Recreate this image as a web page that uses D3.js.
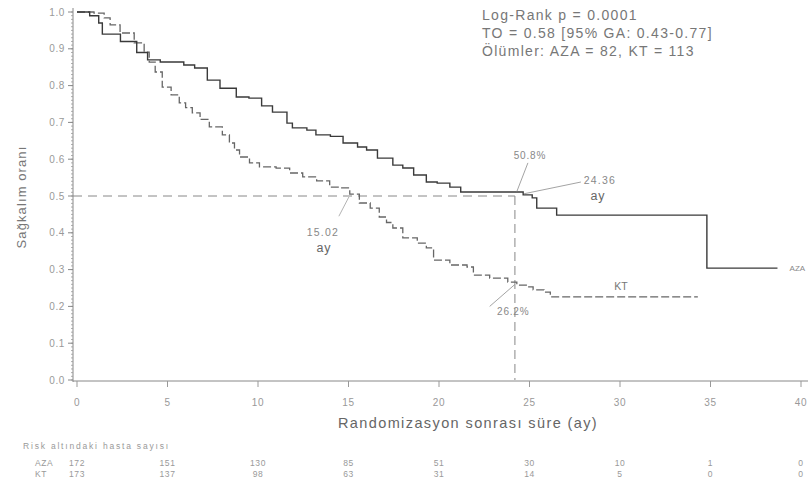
<!DOCTYPE html>
<html>
<head>
<meta charset="utf-8">
<script src="https://cdn.jsdelivr.net/npm/d3@7/dist/d3.min.js"></script>
<style>
  html, body { margin: 0; padding: 0; background: #fff; }
  svg { display: block; font-family: "Liberation Sans", Arial, sans-serif; }
</style>
</head>
<body>
<svg id="chart" width="809" height="496"></svg>
<script>
// ---------- DATA ----------
const azaTime = [0, 0.7, 1.2, 1.4, 2.4, 3.3, 3.9, 4.6, 5.9, 6.5, 7.2, 7.9, 8.8, 9.5, 10.2, 10.8, 11.6, 11.9, 12.7, 13.2, 14.0, 14.7, 15.5, 16.0, 16.6, 17.45, 18.0, 18.6, 19.3, 19.9, 20.6, 21.2, 24.65, 25.15, 25.4, 26.5, 34.8, 38.7];
const azaSurv = [1.0, 0.99, 0.97, 0.94, 0.92, 0.89, 0.87, 0.864, 0.856, 0.848, 0.815, 0.793, 0.769, 0.766, 0.745, 0.728, 0.698, 0.685, 0.679, 0.666, 0.662, 0.644, 0.633, 0.625, 0.603, 0.584, 0.576, 0.557, 0.538, 0.535, 0.524, 0.511, 0.503, 0.495, 0.467, 0.448, 0.304, 0.304];

const ktTime = [0, 0.94, 1.5, 1.83, 2.38, 3.16, 3.71, 3.99, 4.32, 4.71, 5.2, 5.65, 6.0, 6.37, 6.8, 7.31, 8.03, 8.42, 8.7, 8.98, 9.53, 10.08, 11.0, 11.75, 12.47, 13.24, 13.96, 14.5, 15.07, 15.6, 16.2, 16.7, 17.1, 17.45, 18.0, 18.8, 19.3, 19.7, 20.6, 21.55, 21.9, 22.8, 23.8, 24.3, 24.9, 25.2, 25.8, 26.15, 34.3];
const ktSurv = [1.0, 0.997, 0.984, 0.965, 0.943, 0.916, 0.891, 0.864, 0.837, 0.796, 0.775, 0.753, 0.74, 0.726, 0.708, 0.688, 0.666, 0.644, 0.625, 0.606, 0.590, 0.579, 0.576, 0.5625, 0.552, 0.541, 0.524, 0.522, 0.505, 0.481, 0.467, 0.443, 0.428, 0.413, 0.386, 0.372, 0.359, 0.326, 0.3125, 0.307, 0.285, 0.277, 0.266, 0.258, 0.253, 0.245, 0.239, 0.226, 0.226];

const xTicks = [0, 5, 10, 15, 20, 25, 30, 35, 40];
const yTicks = [0, 0.1, 0.2, 0.3, 0.4, 0.5, 0.6, 0.7, 0.8, 0.9, 1.0];
const azaRisk = [172, 151, 130, 85, 51, 30, 10, 1, 0];
const ktRisk = [173, 137, 98, 63, 31, 14, 5, 0, 0];

const statLines = ["Log-Rank p = 0.0001", "TO = 0.58 [95% GA: 0.43-0.77]", "Ölümler: AZA = 82, KT = 113"];
const medianAZA = 24.36, medianKT = 15.02;
const survAZA24 = "50.8%", survKT24 = "26.2%";

// ---------- SCALES ----------
const svg = d3.select("#chart");
const x = d3.scaleLinear().domain([0, 40]).range([77, 801]);
const y = d3.scaleLinear().domain([0, 1]).range([380, 12]);
const axisX0 = 73;

// ---------- AXES ----------
const gy = svg.append("g");
gy.append("line").attr("x1", axisX0).attr("x2", axisX0).attr("y1", y(1) - 4).attr("y2", y(0) + 2)
  .attr("stroke", "#888").attr("stroke-width", 1);
const minor = d3.range(0, 101).map(i => i / 100);
gy.selectAll("line.minor").data(minor).join("line").attr("class", "minor")
  .attr("x1", axisX0 - 2).attr("x2", axisX0).attr("y1", d => y(d)).attr("y2", d => y(d))
  .attr("stroke", "#999").attr("stroke-width", 0.8);
gy.selectAll("line.major").data(yTicks).join("line").attr("class", "major")
  .attr("x1", axisX0 - 5).attr("x2", axisX0).attr("y1", d => y(d)).attr("y2", d => y(d))
  .attr("stroke", "#888").attr("stroke-width", 1);
gy.selectAll("text").data(yTicks).join("text")
  .attr("x", axisX0 - 8).attr("y", d => y(d)).attr("dy", "0.35em")
  .attr("text-anchor", "end").attr("font-size", 10).attr("letter-spacing", 0.6).attr("fill", "#999")
  .text(d => d3.format(".1f")(d));

const gx = svg.append("g");
gx.append("line").attr("x1", axisX0).attr("x2", 808).attr("y1", y(0) + 1).attr("y2", y(0) + 1)
  .attr("stroke", "#888").attr("stroke-width", 1);
gx.selectAll("line.tick").data(xTicks).join("line").attr("class", "tick")
  .attr("x1", d => x(d)).attr("x2", d => x(d)).attr("y1", y(0) + 1).attr("y2", y(0) + 7)
  .attr("stroke", "#999").attr("stroke-width", 1);
gx.selectAll("text").data(xTicks).join("text")
  .attr("x", d => x(d)).attr("y", 402).attr("dy", "0.35em")
  .attr("text-anchor", "middle").attr("font-size", 10).attr("letter-spacing", 0.6).attr("fill", "#999")
  .text(d => d);

// Axis titles
svg.append("text").attr("x", 468).attr("y", 423).attr("dy", "0.35em")
  .attr("text-anchor", "middle").attr("font-size", 14.5).attr("letter-spacing", 1.4).attr("fill", "#666")
  .text("Randomizasyon sonrası süre (ay)");
svg.append("text").attr("transform", "translate(21,197) rotate(-90)").attr("dy", "0.35em")
  .attr("text-anchor", "middle").attr("font-size", 13).attr("letter-spacing", 1.1).attr("fill", "#777")
  .text("Sağkalım oranı");

// ---------- REFERENCE LINES ----------
svg.append("line").attr("x1", axisX0).attr("x2", x(medianAZA) - 3).attr("y1", y(0.5)).attr("y2", y(0.5))
  .attr("stroke", "#888").attr("stroke-width", 1).attr("stroke-dasharray", "9,6");
svg.append("line").attr("x1", x(medianAZA) - 3).attr("x2", x(medianAZA) - 3).attr("y1", y(0.5)).attr("y2", y(0))
  .attr("stroke", "#888").attr("stroke-width", 1).attr("stroke-dasharray", "9,5");

// ---------- CURVES ----------
const line = d3.line().x(d => x(d[0])).y(d => y(d[1])).curve(d3.curveStepAfter);
svg.append("path").datum(d3.zip(ktTime, ktSurv)).attr("d", line)
  .attr("fill", "none").attr("stroke", "#666").attr("stroke-width", 1.3).attr("stroke-dasharray", "8,3");
svg.append("path").datum(d3.zip(azaTime, azaSurv)).attr("d", line)
  .attr("fill", "none").attr("stroke", "#3a3a3a").attr("stroke-width", 1.4);

// ---------- ANNOTATIONS ----------
const ann = svg.append("g").attr("fill", "#888");
// 50.8%
svg.append("line").attr("x1", x(medianAZA) - 1).attr("y1", y(0.51) - 1).attr("x2", x(medianAZA) + 10).attr("y2", y(0.59))
  .attr("stroke", "#999").attr("stroke-width", 0.9);
ann.append("text").attr("x", x(medianAZA) + 12).attr("y", y(0.61)).attr("dy", "0.35em")
  .attr("text-anchor", "middle").attr("font-size", 10).attr("letter-spacing", 0.8).text(survAZA24);
// 24.36 ay
svg.append("line").attr("x1", x(medianAZA) + 6).attr("y1", y(0.506)).attr("x2", x(medianAZA) + 63).attr("y2", y(0.538))
  .attr("stroke", "#999").attr("stroke-width", 0.9);
ann.append("text").attr("x", x(medianAZA) + 82).attr("y", 180).attr("dy", "0.35em")
  .attr("text-anchor", "middle").attr("font-size", 10.5).attr("letter-spacing", 1.2).text(String(medianAZA));
ann.append("text").attr("x", x(medianAZA) + 80).attr("y", 196).attr("dy", "0.35em")
  .attr("text-anchor", "middle").attr("font-size", 12.5).attr("letter-spacing", 0.8).attr("fill", "#666").text("ay");
// 15.02 ay
svg.append("line").attr("x1", x(medianKT)).attr("y1", y(0.5) + 1).attr("x2", x(medianKT) - 10).attr("y2", y(0.445))
  .attr("stroke", "#aaa").attr("stroke-width", 0.9);
ann.append("text").attr("x", x(medianKT) - 26).attr("y", 232).attr("dy", "0.35em")
  .attr("text-anchor", "middle").attr("font-size", 10.5).attr("letter-spacing", 1.2).text(String(medianKT));
ann.append("text").attr("x", x(medianKT) - 25).attr("y", 248).attr("dy", "0.35em")
  .attr("text-anchor", "middle").attr("font-size", 12.5).attr("letter-spacing", 0.8).attr("fill", "#666").text("ay");
// 26.2%
svg.append("line").attr("x1", x(24.2)).attr("y1", y(0.26)).attr("x2", x(22.8)).attr("y2", y(0.2))
  .attr("stroke", "#999").attr("stroke-width", 0.9);
ann.append("text").attr("x", x(24.1)).attr("y", 311).attr("dy", "0.35em")
  .attr("text-anchor", "middle").attr("font-size", 10).attr("letter-spacing", 0.8).text(survKT24);
// Curve labels
ann.append("text").attr("x", x(30.05)).attr("y", y(0.255)).attr("dy", "0.35em")
  .attr("text-anchor", "middle").attr("font-size", 10.5).attr("fill", "#777").text("KT");
ann.append("text").attr("x", x(39.8)).attr("y", y(0.305)).attr("dy", "0.35em")
  .attr("text-anchor", "middle").attr("font-size", 8).attr("fill", "#888").text("AZA");

// Stats text
svg.append("g").selectAll("text").data(statLines).join("text")
  .attr("x", 482).attr("y", (d, i) => 15 + i * 18).attr("dy", "0.35em")
  .attr("font-size", 14).attr("letter-spacing", 1.3).attr("fill", "#777").text(d => d);

// ---------- RISK TABLE ----------
svg.append("text").attr("x", 23).attr("y", 446).attr("dy", "0.35em")
  .attr("font-size", 8.5).attr("letter-spacing", 1.8).attr("fill", "#999").text("Risk altındaki hasta sayısı");
const rows = [["AZA", azaRisk, 463], ["KT", ktRisk, 474]];
rows.forEach(([name, vals, ry]) => {
  svg.append("text").attr("x", 35).attr("y", ry).attr("dy", "0.35em")
    .attr("font-size", 8.5).attr("letter-spacing", 0.6).attr("fill", "#999").text(name);
  svg.append("g").selectAll("text").data(vals).join("text")
    .attr("x", (d, i) => x(xTicks[i])).attr("y", ry).attr("dy", "0.35em")
    .attr("text-anchor", "middle").attr("font-size", 8.5).attr("letter-spacing", 0.6).attr("fill", "#999").text(d => d);
});
</script>
</body>
</html>
